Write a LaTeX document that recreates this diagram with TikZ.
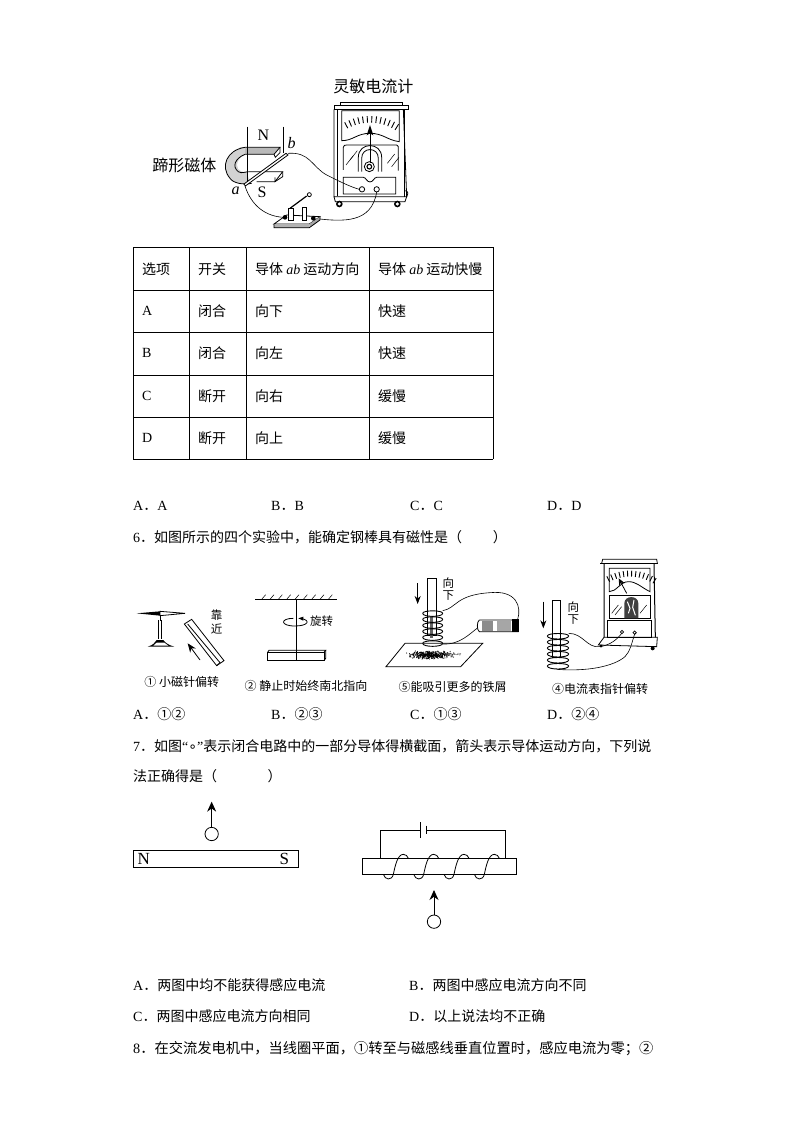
\documentclass[tikz,border=0pt]{standalone}
\usepackage{fontspec}
\setmainfont{Noto Sans CJK SC}
\newfontfamily\lat{Liberation Serif}
\newfontfamily\dej{DejaVu Sans}
\usetikzlibrary{arrows.meta,shapes.geometric}
\tikzset{
 txt/.style={anchor=west,inner sep=0pt,font=\fontsize{14}{16}\selectfont},
 cell/.style={anchor=west,inner sep=0pt,font=\fontsize{14}{16}\selectfont},
 capt/.style={anchor=center,inner sep=0pt,font=\fontsize{12}{14}\selectfont},
 figlab/.style={anchor=center,inner sep=0pt,font=\fontsize{16}{18}\selectfont},
 smalllab/.style={anchor=center,inner sep=0pt,font=\fontsize{11.5}{13}\selectfont},
 polelab/.style={inner sep=0pt,font=\lat\fontsize{16}{16}\selectfont},
 endlab/.style={inner sep=0pt,font=\lat\itshape\fontsize{16}{16}\selectfont},
 thin line/.style={line width=0.5pt},
 med line/.style={line width=0.8pt},
 wire/.style={line width=0.6pt},
 upar/.style={line width=0.9pt,-{Stealth[length=10pt,width=9pt]}},
}
\begin{document}
\begin{tikzpicture}[x=1pt,y=-1pt]
\fill[white] (0,0) rectangle (794,1123);
\useasboundingbox (0,0) rectangle (794,1123);

% ---------- Figure 1
\begin{scope}[shift={(130,70)},scale=1/3]
 \node[figlab] (t1) at (730,50) {灵敏电流计};
 \node[figlab] (t2) at (163,285) {蹄形磁体};
 % horseshoe
 \fill[gray!55] (330,232)--(450,232)--(432,253)--(320,253)--cycle;
 \draw[med line] (345,232)--(450,232)--(432,253)--(330,253);
 \draw[med line] (450,232)--(450,248)--(436,262)--(432,253);
 \fill[gray!35] (345,232) .. controls (290,240) and (270,290) .. (300,325) .. controls (310,340) and (340,345) .. (360,340) -- (350,305) .. controls (325,310) and (315,290) .. (325,272) .. controls (330,262) and (340,255) .. (345,253) -- cycle;
 \draw[med line] (345,232) .. controls (290,240) and (270,290) .. (300,325) .. controls (310,340) and (340,345) .. (365,340);
 \draw[med line] (345,253) .. controls (315,265) and (305,290) .. (325,305) .. controls (335,312) and (345,305) .. (355,305);
 \draw[med line] (355,305)--(458,305)--(435,335)--(380,335);
 \draw[med line] (458,305)--(458,320)--(435,335)--(435,322);
 \draw[med line] (352,170)--(352,345);
 \draw[med line] (460,170)--(460,250);
 \node[polelab] (n1) at (400,196) {N};
 \node[polelab] (s1) at (396,366) {S};
 \node[endlab] (b1) at (485,220) {b};
 \node[endlab] (a1) at (317,361) {a};
 \fill[white] (342,342)--(468,250)--(474,255)--(346,348)--cycle;
 \draw[med line] (342,342)--(468,250)--(474,255)--(346,348)--cycle;
 % wires
 \draw[wire] (474,250) .. controls (540,245) and (545,290) .. (590,315) .. controls (630,335) and (660,350) .. (688,358);
 \draw[wire] (345,348) .. controls (365,410) and (410,440) .. (462,442);
 \draw[wire] (560,446) .. controls (640,455) and (725,460) .. (740,366);
 % galvanometer
 \draw[med line] (632,105)--(632,97)--(818,97)--(818,105);
 \draw[med line] (612,105)--(835,105)--(835,118)--(612,118)--cycle;
 \draw[line width=1.1pt] (622,118)--(622,378);
 \draw[med line] (612,118)--(612,380)--(830,380)--(820,118);
 \draw[med line] (822,118)--(822,380);
 \draw[med line] (830,380) .. controls (835,370) and (835,365) .. (826,362);
 \draw[med line] (612,380)--(616,395)--(825,395)--(830,380);
 \draw[med line] (635,122)--(808,122)--(808,215) .. controls (770,210) and (760,190) .. (720,190) .. controls (680,190) and (670,212) .. (635,212)--cycle;
 \foreach \a in {-32,-27,...,32}{
   \draw[line width=0.9pt,rotate around={\a:(720,300)}] (720,138)--(720,158);
 }
 \draw[thin line] (720,280)--(720,180);
 \fill (720,165)--(730,196)--(720,190)--(710,196)--cycle;
 \draw[med line] (640,300)--(640,232) .. controls (640,226) and (645,225) .. (650,225)--(800,225) .. controls (805,225) and (805,232) .. (805,235)--(805,302);
 \draw[med line] (685,305)--(685,262) .. controls (685,215) and (755,215) .. (755,262)--(755,305);
 \draw[med line] (695,305)--(695,265) .. controls (695,230) and (745,230) .. (745,265)--(745,305);
 \draw[med line] (718,290) circle[radius=15];
 \draw[line width=1.1pt] (718,290) circle[radius=7];
 \foreach \xa/\ya in {648/285,660/270,772/280,785/290}{\draw[thin line] (\xa,\ya)--++(22,-28);}
 \draw[med line] (640,322)--(700,322) .. controls (708,322) and (710,336) .. (720,336) .. controls (730,336) and (732,322) .. (740,322)--(797,322)--(797,372)--(640,372)--cycle;
 \draw[med line,fill=white] (696,358) circle[radius=8];
 \draw[med line,fill=white] (740,358) circle[radius=8];
 \fill (628,402) circle[radius=10];
 \fill (802,402) circle[radius=10];
 \fill[white] (628,402) circle[radius=5];
 \fill[white] (802,402) circle[radius=5];
 % switch
 \draw[med line,fill=white] (432,462)--(470,435)--(570,440)--(538,462)--cycle;
 \fill[gray!60] (432,462)--(538,462)--(538,473)--(432,473)--cycle;
 \fill[gray!70] (538,462)--(570,440)--(570,450)--(538,473)--cycle;
 \draw[med line] (432,462)--(432,473)--(538,473)--(570,450)--(570,440);
 \draw[med line,fill=white] (476,415)--(476,450)--(490,450)--(490,415)--cycle;
 \draw[med line,fill=white] (516,412)--(516,450)--(530,450)--(530,412)--cycle;
 \draw[line width=1.2pt] (480,415)--(530,378);
 \draw[med line,fill=white] (538,374) circle[radius=6];
 \fill (465,442) circle[radius=7];
 \fill (550,445) circle[radius=7];
\end{scope}

% ---------- Table
\foreach \yy in {247,290,332,375,417,459}{\draw[thin line] (133,\yy)--(493,\yy);}
\foreach \xx in {133,189,246,369,493}{\draw[thin line] (\xx,247)--(\xx,459);}
\node[cell] (c11) at (142,269) {选项};
\node[cell] (c12) at (198,269) {开关};
\node[cell] (c13) at (255,269) {导体 {\lat\itshape ab} 运动方向};
\node[cell] (c14) at (378,269) {导体 {\lat\itshape ab} 运动快慢};
\node[cell] (c21) at (142,311) {\lat A};
\node[cell] (c22) at (198,311) {闭合};
\node[cell] (c23) at (255,311) {向下};
\node[cell] (c24) at (378,311) {快速};
\node[cell] (c31) at (142,353) {\lat B};
\node[cell] (c32) at (198,353) {闭合};
\node[cell] (c33) at (255,353) {向左};
\node[cell] (c34) at (378,353) {快速};
\node[cell] (c41) at (142,396) {\lat C};
\node[cell] (c42) at (198,396) {断开};
\node[cell] (c43) at (255,396) {向右};
\node[cell] (c44) at (378,396) {缓慢};
\node[cell] (c51) at (142,438) {\lat D};
\node[cell] (c52) at (198,438) {断开};
\node[cell] (c53) at (255,438) {向上};
\node[cell] (c54) at (378,438) {缓慢};

% ---------- Text lines
\node[txt] (q5a) at (133,506) {{\lat A}．{\lat A}};
\node[txt] (q5b) at (271,506) {{\lat B}．{\lat B}};
\node[txt] (q5c) at (410,506) {{\lat C}．{\lat C}};
\node[txt] (q5d) at (547,506) {{\lat D}．{\lat D}};
\node[txt] (q6) at (133,537) {{\lat 6}．如图所示的四个实验中，能确定钢棒具有磁性是（\hspace{2.2em}）};
\node[txt] (q6a) at (133,714) {{\lat A}．①②};
\node[txt] (q6b) at (271,714) {{\lat B}．②③};
\node[txt] (q6c) at (410,714) {{\lat C}．①③};
\node[txt] (q6d) at (547,714) {{\lat D}．②④};
\node[txt] (q7) at (133,746) {{\lat 7}．如图{\lat “}{\dej∘}{\lat ”}表示闭合电路中的一部分导体得横截面，箭头表示导体运动方向，下列说};
\node[txt] (q7b) at (133,776) {法正确得是（\hspace{3.6em}）};
\node[txt] (q7A) at (133,985) {{\lat A}．两图中均不能获得感应电流};
\node[txt] (q7B) at (409,985) {{\lat B}．两图中感应电流方向不同};
\node[txt] (q7C) at (133,1016) {{\lat C}．两图中感应电流方向相同};
\node[txt] (q7D) at (409,1016) {{\lat D}．以上说法均不正确};
\node[txt,font=\fontsize{14.25}{16}\selectfont] (q8) at (133,1049) {{\lat 8}．在交流发电机中，当线圈平面，①转至与磁感线垂直位置时，感应电流为零；②};

% ---------- Figures of question 6, left part
\begin{scope}[shift={(125,550)},scale=1/3]
 \fill (35,190)--(105,184)--(105,197)--cycle;
 \draw[med line,fill=white] (105,184)--(180,190)--(105,197)--cycle;
 \draw[line width=1.2pt] (100,210)--(100,268) (110,210)--(110,268);
 \fill (105,197) rectangle (108,212);
 \fill (68,290) .. controls (85,285) and (90,278) .. (95,270)--(115,270) .. controls (120,278) and (130,285) .. (148,290)--cycle;
 \fill[white] (85,287)--(130,287)--(118,278)--(95,278)--cycle;
 \draw[med line] (178,222)--(200,208)--(297,332)--(275,347)--cycle;
 \draw[med line] (188,222)--(285,338)--(275,347);
 \draw[med line,-{Stealth[length=9pt,width=7pt]}] (225,330)--(188,280);
 \node[smalllab] (k1) at (275,195) {靠};
 \node[smalllab] (k2) at (275,238) {近};
 \node[capt] (cap1) at (170,397) {① 小磁针偏转};
 % figure 2
 \draw[med line] (390,148)--(635,148);
 \foreach \xx in {410,435,...,630}{\draw[thin line] (\xx,148)--++(12,-14);}
 \draw[med line] (515,148)--(515,332);
 \draw[med line] (505,205) .. controls (465,205) and (465,228) .. (510,228) .. controls (550,228) and (560,210) .. (525,205);
 \fill (520,205) -- (535,200)--(535,212)--cycle;
 \node[smalllab] (x1) at (590,213) {旋转};
 \draw[med line] (428,307)--(597,307)--(597,332)--(428,332)--cycle;
 \draw[med line] (428,307)--(432,301)--(602,301)--(597,307);
 \draw[med line] (602,301)--(602,325)--(597,332);
 \node[capt] (cap2) at (543,407) {② 静止时始终南北指向};
\end{scope}

% ---------- Figures of question 6, right part
\begin{scope}[shift={(380,550)},scale=1/3]
 \draw[med line] (75,280)--(308,280)--(242,350)--(18,350)--cycle;
 \pgfmathsetseed{7}
 \foreach \i in {1,...,500}{
   \pgfmathsetmacro{\dx}{75*(rnd+rnd-1)}
   \pgfmathsetmacro{\dy}{13*(rnd+rnd-1)}
   \fill (150+\dx,315+\dy) circle[radius=1.6];
 }
 \foreach \i in {1,...,40}{
   \pgfmathsetmacro{\dx}{220+50*(rnd-.5)}
   \pgfmathsetmacro{\dy}{312+6*(rnd-.5)}
   \fill[black!60] (\dx,\dy) circle[radius=1];
 }
 \draw[med line,fill=white] (142,85)--(168,85)--(168,255)--(142,255)--cycle;
 \draw[med line,-{Stealth[length=8pt,width=6pt]}] (113,100)--(113,162);
 \node[smalllab] (x31) at (205,100) {向};
 \node[smalllab] (x32) at (205,137) {下};
 \fill[black!60] (150,200) rectangle (160,265);
 \foreach \yy in {190,208,...,280}{
   \draw[line width=0.9pt] (128,\yy) .. controls (128,\yy+12) and (188,\yy+12) .. (188,\yy) .. controls (188,\yy-10) and (128,\yy-10) .. (128,\yy);
 }
 \draw[wire] (188,182) .. controls (230,175) and (225,135) .. (330,128) .. controls (410,120) and (425,170) .. (413,208);
 \draw[wire] (188,282) .. controls (240,285) and (270,250) .. (295,232);
 \draw[med line,fill=white] (298,210)--(415,210)--(415,245)--(298,245) .. controls (290,240) and (290,215) .. (298,210);
 \fill[black!45] (305,213) rectangle (340,242);
 \fill[black!35] (350,213) rectangle (392,242);
 \fill[black] (395,208) rectangle (416,245);
 \node[capt] (cap3) at (218,412) {⑤能吸引更多的铁屑};
 % figure 4
 \draw[med line] (665,40)--(668,28)--(830,28)--(832,40);
 \draw[med line] (660,40)--(835,40);
 \draw[line width=1pt] (672,40)--(672,262) (822,40)--(826,262);
 \draw[med line] (688,55)--(810,55)--(810,125) .. controls (780,110) and (770,95) .. (745,95) .. controls (720,95) and (710,125) .. (688,125)--cycle;
 \foreach \a in {-32,-27,...,32}{
   \draw[line width=0.9pt,rotate around={\a:(750,210)}] (750,62)--(750,80);
 }
 \draw[med line,-{Stealth[length=7pt,width=6pt]}] (740,130)--(716,85);
 \draw[med line] (688,135)--(810,135)--(810,205)--(688,205)--cycle;
 \fill[black!75] (733,205)--(733,160) .. controls (733,135) and (775,135) .. (775,160)--(775,205)--cycle;
 \draw[white,line width=1pt] (742,155)--(750,175)--(745,190) (762,150)--(758,172)--(766,196);
 \draw[thin line] (695,190)--(715,165) (705,195)--(725,170) (780,190)--(800,165);
 \draw[med line] (682,212)--(815,212)--(815,262)--(682,262)--cycle;
 \draw[med line,fill=white] (726,246) circle[radius=5];
 \draw[med line,fill=white] (764,248) circle[radius=5];
 \draw[med line] (655,285)--(672,262)--(832,262)--(830,290)--(655,285)--cycle;
 \fill (818,295) circle[radius=6];
 \fill (663,288) circle[radius=5];
 \draw[med line,fill=white] (517,150)--(542,150)--(542,322)--(517,322)--cycle;
 \draw[med line,-{Stealth[length=8pt,width=6pt]}] (490,155)--(490,235);
 \node[smalllab] (x41) at (580,172) {向};
 \node[smalllab] (x42) at (580,208) {下};
 \foreach \yy in {258,276,...,348}{
   \draw[line width=0.9pt] (502,\yy) .. controls (502,\yy+12) and (566,\yy+12) .. (566,\yy) .. controls (566,\yy-10) and (502,\yy-10) .. (502,\yy);
 }
 \draw[wire] (566,250) .. controls (610,250) and (620,295) .. (660,290) .. controls (690,285) and (710,270) .. (725,250);
 \draw[wire] (530,358) .. controls (620,365) and (700,350) .. (735,320) .. controls (750,305) and (755,280) .. (764,252);
 \node[capt] (cap4) at (660,416) {④电流表指针偏转};
\end{scope}

% ---------- Figures of question 7
\begin{scope}[shift={(125,795)},scale=1/3]
 \draw[med line] (260,117) circle[radius=20];
 \draw[upar] (260,97)--(260,20);
 \draw[med line] (25,165) rectangle (520,217);
 \node[polelab,font=\lat\fontsize{17}{17}\selectfont] (n7) at (56,193) {N};
 \node[polelab,font=\lat\fontsize{17}{17}\selectfont] (s7) at (478,193) {S};
 \draw[med line] (712,190) rectangle (1175,238);
 \draw[med line] (767,190)--(767,105)--(885,105);
 \draw[med line] (885,82)--(885,130);
 \draw[med line] (903,92)--(903,118);
 \draw[med line] (903,105)--(1142,105)--(1142,190);
 \foreach \xx in {775,866,957,1048}{
  \draw[med line] (\xx,238) .. controls (\xx+5,255) and (\xx+25,258) .. (\xx+30,238)
    .. controls (\xx+35,215) and (\xx+42,178) .. (\xx+60,178)
    .. controls (\xx+68,178) and (\xx+72,183) .. (\xx+75,190);
 }
 \draw[med line] (927,380) circle[radius=20];
 \draw[upar] (927,360)--(927,285);
\end{scope}
\end{tikzpicture}
\end{document}
